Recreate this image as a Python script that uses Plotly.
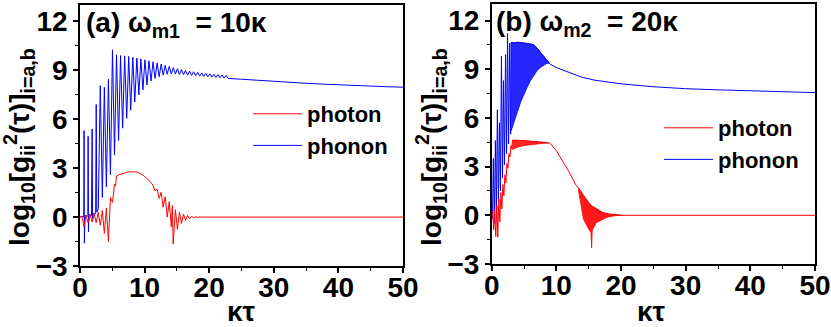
import plotly.graph_objects as go

W, H = 831, 327
FONT = "Liberation Sans, Arial, sans-serif"
RED = "#ff0000"
BLUE = "#0000ff"

# ---------------- Panel (a): omega_m1 = 10 kappa ----------------
a_phonon_t = [0.0, 0.5, 0.58, 0.63, 0.68, 0.76, 1.14, 1.22, 1.26, 1.31, 1.39, 1.78, 1.88, 1.95, 2.03,
              2.42, 2.51, 2.6, 2.83, 3.14, 3.46, 3.77, 4.08, 4.40, 4.71, 5.03, 5.34, 5.65, 5.97, 6.28,
              6.60, 6.91, 7.23, 7.54, 7.85, 8.17, 8.48, 8.80, 9.11, 9.42, 9.74, 10.05, 10.37, 10.68,
              11.0, 11.31, 11.62, 11.94, 12.25, 12.57, 12.88, 13.19, 13.5, 13.82, 14.14, 14.45, 14.77,
              15.08, 15.39, 15.71, 16.02, 16.34, 16.65, 16.96, 17.28, 17.59, 17.91, 18.22, 18.53, 18.85,
              19.16, 19.48, 19.79, 20.11, 20.42, 20.74, 21.05, 21.36, 21.68, 21.99, 22.3, 22.62, 22.93,
              25.0, 27.5, 30.0, 32.5, 35.0, 37.5, 40.0, 42.5, 45.0, 47.5, 50.0]
a_phonon_v = [0.0, 0.05, 0.0, 5.3, -1.6, 0.1, 0.05, 0.1, 4.95, -0.9, 0.15, 0.1, 5.4, -0.1, 0.2,
              0.2, 6.9, 0.3, 0.5, 8.05, 1.2, 7.95, 1.85, 8.45, 2.6, 10.25, 3.8, 9.95, 4.7, 9.9,
              5.45, 9.88, 6.05, 9.85, 6.55, 9.8, 7.05, 9.75, 7.5, 9.7, 7.8, 9.64, 8.1, 9.58,
              8.35, 9.52, 8.5, 9.45, 8.6, 9.38, 8.7, 9.3, 8.75, 9.24, 8.77, 9.17, 8.76,
              9.1, 8.74, 9.04, 8.72, 8.99, 8.7, 8.95, 8.68, 8.91, 8.66, 8.87, 8.64, 8.84,
              8.62, 8.81, 8.6, 8.78, 8.58, 8.75, 8.56, 8.73, 8.54, 8.71, 8.52, 8.69, 8.5,
              8.45, 8.38, 8.31, 8.26, 8.2, 8.15, 8.1, 8.06, 8.02, 7.99, 7.96]

a_photon_t = [0.0, 0.3, 0.63, 0.94, 1.26, 1.57, 1.88, 2.2, 2.51, 2.83, 3.14, 3.46, 3.77, 4.08, 4.40,
              4.71, 5.03, 5.34, 5.5, 5.65, 5.97, 6.28, 6.6, 6.91, 7.23, 7.54, 7.85, 8.17, 8.48, 8.8,
              9.11, 9.42, 9.74, 10.05, 10.37, 10.68, 11.0, 11.31, 11.62, 11.94, 12.25, 12.57, 12.88,
              13.19, 13.5, 13.82, 14.14, 14.3, 14.42, 14.77, 15.08, 15.39, 15.71, 16.02, 16.34, 16.65,
              16.96, 17.28, 17.59, 17.91, 18.22, 18.6, 50.0]
a_photon_v = [0.0, 0.05, -0.6, 0.12, -0.35, 0.15, -0.3, 0.2, -0.35, 0.28, -0.5, 0.4, -1.0, 0.55, -1.5,
              1.2, 0.9, 2.0, 1.9, 2.5, 2.58, 2.62, 2.68, 2.72, 2.74, 2.78, 2.77, 2.79, 2.77, 2.76,
              2.72, 2.65, 2.58, 2.48, 2.38, 2.25, 2.1, 1.95, 1.6, 1.72, 1.15, 1.52, 0.6,
              1.25, 0.0, 0.95, -0.6, 0.7, -1.65, 0.45, -0.75, 0.3, -0.4, 0.18, -0.2, 0.1,
              -0.1, 0.05, -0.05, 0.02, -0.02, 0.0, 0.0]

# ---------------- Panel (b): omega_m2 = 20 kappa ----------------
b_phonon_early_t = [0.0, 0.12, 0.25, 0.41, 0.57, 0.72, 0.88, 1.04, 1.2, 1.35, 1.51, 1.67, 1.82, 1.98,
                    2.14, 2.3, 2.45, 2.61, 2.77, 2.93]
b_phonon_early_v = [0.0, -0.2, 3.5, -0.5, 4.6, 0.3, 6.5, 0.9, 5.7, 1.5, 9.8, 2.3, 8.3, 3.1,
                    9.9, 3.8, 11.2, 4.4, 10.6, 5.0]
b_phonon_band_t = [3.0, 3.5, 4.0, 4.5, 5.0, 5.5, 6.0, 6.5, 7.0, 7.5, 8.0, 8.5, 8.9]
b_phonon_band_hi = [10.65, 10.62, 10.66, 10.62, 10.6, 10.58, 10.55, 10.5, 10.3, 10.05, 9.8, 9.55, 9.38]
b_phonon_band_lo = [5.2, 5.8, 6.4, 7.0, 7.5, 7.9, 8.3, 8.6, 8.9, 9.1, 9.25, 9.35, 9.38]
b_phonon_tail_t = [9.0, 10.0, 11.0, 12.0, 14.0, 16.0, 18.0, 20.0, 25.0, 30.0, 35.0, 40.0, 45.0, 50.0]
b_phonon_tail_v = [9.32, 9.1, 8.95, 8.8, 8.5, 8.32, 8.2, 8.1, 7.92, 7.8, 7.73, 7.68, 7.62, 7.56]

b_photon_early_t = [0.0, 0.16, 0.31, 0.47, 0.63, 0.79, 0.94, 1.1, 1.26, 1.41, 1.57, 1.73, 1.88, 2.04,
                    2.2, 2.36, 2.51, 2.67, 2.83, 2.98, 3.14]
b_photon_early_v = [0.0, 0.15, -0.9, 0.35, -1.3, 0.6, -1.35, 1.0, -0.4, 1.4, 0.4, 1.9, 1.2, 2.5,
                    2.0, 3.2, 2.9, 3.8, 3.6, 4.3, 4.1]
b_photon_band1_t = [3.2, 4.0, 5.0, 6.0, 7.0, 8.0, 8.8]
b_photon_band1_hi = [4.62, 4.62, 4.6, 4.56, 4.53, 4.5, 4.47]
b_photon_band1_lo = [4.05, 4.2, 4.3, 4.36, 4.4, 4.44, 4.46]
b_photon_mid_t = [9.0, 10.0, 11.0, 12.0, 13.0]
b_photon_mid_v = [4.45, 3.98, 3.35, 2.65, 1.88]
b_photon_band2_t = [13.4, 14.2, 15.0, 15.35, 15.45, 15.55, 16.2, 17.2, 18.0, 19.0, 20.0]
b_photon_band2_hi = [1.7, 1.2, 0.75, 0.62, 0.57, 0.55, 0.41, 0.16, 0.08, 0.03, 0.0]
b_photon_band2_lo = [1.6, -0.25, -0.85, -1.05, -2.0, -0.9, -0.45, -0.25, -0.1, -0.03, 0.0]
b_photon_tail_t = [20.0, 50.0]
b_photon_tail_v = [0.0, 0.0]

fig = go.Figure()


def band(t, hi, lo, color, fill, xa, ya):
    fig.add_trace(go.Scatter(x=t + t[::-1], y=hi + lo[::-1], mode="lines", fill="toself",
                             fillcolor=fill, line=dict(color=color, width=0.8),
                             showlegend=False, hoverinfo="skip", xaxis=xa, yaxis=ya))


# panel a
fig.add_trace(go.Scatter(x=a_phonon_t, y=a_phonon_v, mode="lines", name="phonon",
                         line=dict(color=BLUE, width=1), legend="legend", legendrank=2,
                         xaxis="x", yaxis="y"))
fig.add_trace(go.Scatter(x=a_photon_t, y=a_photon_v, mode="lines", name="photon",
                         line=dict(color=RED, width=1), legend="legend", legendrank=1,
                         xaxis="x", yaxis="y"))

# panel b
band(b_phonon_band_t, b_phonon_band_hi, b_phonon_band_lo, BLUE, "rgba(0,0,255,0.85)", "x2", "y2")
fig.add_trace(go.Scatter(x=b_phonon_early_t + b_phonon_band_t + b_phonon_tail_t,
                         y=b_phonon_early_v + b_phonon_band_hi + b_phonon_tail_v,
                         mode="lines", name="phonon", line=dict(color=BLUE, width=1),
                         legend="legend2", legendrank=2, xaxis="x2", yaxis="y2"))
band(b_photon_band1_t, b_photon_band1_hi, b_photon_band1_lo, RED, "rgba(255,0,0,0.85)", "x2", "y2")
band(b_photon_band2_t, b_photon_band2_hi, b_photon_band2_lo, RED, "rgba(255,0,0,0.9)", "x2", "y2")
fig.add_trace(go.Scatter(x=b_photon_early_t + b_photon_band1_t + b_photon_mid_t + b_photon_band2_t + b_photon_tail_t,
                         y=b_photon_early_v + b_photon_band1_hi + b_photon_mid_v + b_photon_band2_hi + b_photon_tail_v,
                         mode="lines", name="photon", line=dict(color=RED, width=1),
                         legend="legend2", legendrank=1, xaxis="x2", yaxis="y2"))

tickfont = dict(family=FONT, size=28, color="black", weight="bold")
axcommon = dict(showline=True, linecolor="black", linewidth=1.5, mirror=True, showgrid=False,
                zeroline=False, ticks="outside", ticklen=5, tickwidth=1.5, tickcolor="black",
                tickfont=tickfont, automargin=False)
xcommon = dict(axcommon, range=[0, 50], tickvals=[0, 10, 20, 30, 40, 50], ticklabelstandoff=-9,
               minor=dict(ticks="outside", ticklen=3, tickwidth=1, tickcolor="black",
                          tickvals=[5, 15, 25, 35, 45]))
ycommon = dict(axcommon, range=[-3, 13], tickvals=[-3, 0, 3, 6, 9, 12],
               minor=dict(ticks="outside", ticklen=3, tickwidth=1, tickcolor="black",
                          tickvals=[-1.5, 1.5, 4.5, 7.5, 10.5]))

legfont = dict(family=FONT, size=22, color="black", weight="bold")
fig.update_layout(
    width=W, height=H, margin=dict(l=0, r=0, t=0, b=0, pad=0, autoexpand=False),
    paper_bgcolor="white", plot_bgcolor="white",
    xaxis=dict(xcommon, domain=[80 / W, 403 / W], anchor="y"),
    yaxis=dict(ycommon, domain=[1 - 266 / H, 1 - 5 / H], anchor="x"),
    xaxis2=dict(xcommon, domain=[491.7 / W, 815 / W], anchor="y2"),
    yaxis2=dict(ycommon, domain=[1 - 264 / H, 1 - 4.3 / H], anchor="x2"),
    legend=dict(x=248 / W, y=1 - 93 / H, xanchor="left", yanchor="top", font=legfont,
                itemwidth=49, bgcolor="rgba(0,0,0,0)", tracegroupgap=0),
    legend2=dict(x=659 / W, y=1 - 107 / H, xanchor="left", yanchor="top", font=legfont,
                 itemwidth=49, bgcolor="rgba(0,0,0,0)", tracegroupgap=0),
)

def ann(text, x, y, size=28, xanchor="center", yanchor="middle", angle=0):
    fig.add_annotation(text=text, x=x / W, y=1 - y / H, xref="paper", yref="paper",
                       showarrow=False, xanchor=xanchor, yanchor=yanchor, textangle=angle,
                       font=dict(family=FONT, size=size, color="black", weight="bold"))

ytitle = "log<sub>10</sub>[g<sub>ii</sub><sup>2</sup>(τ)]<sub>i=a,b</sub>"
ann(ytitle, 19, 147, angle=-90)
ann(ytitle, 431, 147, angle=-90)
ann("κτ", 241.5, 311)
ann("κτ", 651, 311)
ann("(a) ω<sub>m1</sub>&nbsp; = 10κ", 84, 5, xanchor="left", yanchor="top")
ann("(b) ω<sub>m2</sub>&nbsp; = 20κ", 494, 4, xanchor="left", yanchor="top")

fig.write_html("out.html", config={"displayModeBar": False},
               post_script="document.body.style.margin='0px';document.body.style.overflow='hidden';")
